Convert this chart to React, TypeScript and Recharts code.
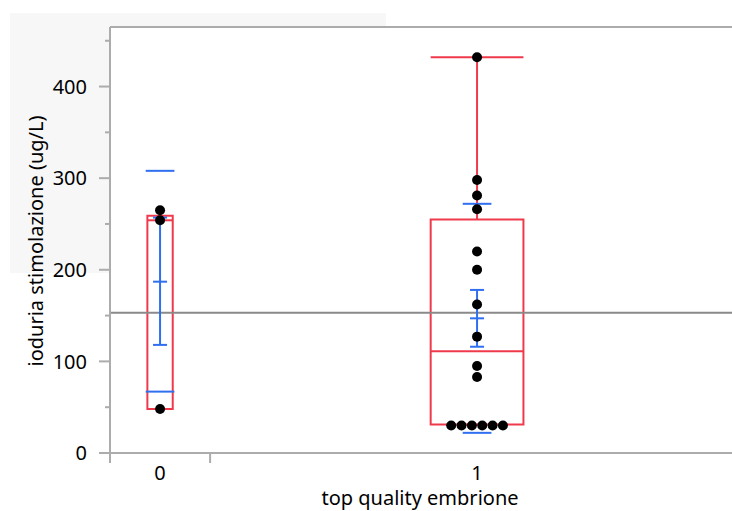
import React from 'react';
import {
  CartesianGrid,
  ComposedChart,
  Label,
  ReferenceArea,
  ReferenceLine,
  Scatter,
  XAxis,
  YAxis,
} from 'recharts';

// groups of "top quality embrione", width of each group follows its count
const groups = ['0', '1'];
const groupCounts = [3, 16];
const groupValues = [
  [265, 254, 48],
  [432, 298, 281, 266, 220, 200, 162, 127, 95, 83, 30, 30, 30, 30, 30, 30],
];

// box plot stats
const quartile1 = [48, 31];
const medians = [254, 111];
const quartile3 = [259, 255];
const whiskerTop = [259, 432];

// mean, std error, std dev
const means = [187, 147];
const stdErrLow = [118, 116];
const stdErrHigh = [257, 178];
const stdDevLow = [67, 22];
const stdDevHigh = [308, 272];
const grandMean = 153;

const yTicks = [0, 50, 100, 150, 200, 250, 300, 350, 400, 450];

const RED = '#ef3a4c';
const BLUE = '#2f6ff0';
const AXIS = '#acacac';
const FONT = '"Noto Sans", sans-serif';

const starts = groupCounts.map((_, i) => groupCounts.slice(0, i).reduce((a, b) => a + b, 0));
const total = groupCounts.reduce((a, b) => a + b, 0);
const centers = groupCounts.map((n, i) => starts[i] + n / 2);
const separators = [...starts, total];
const boxHalf = [0.38, 1.39];

// equal values sit side by side
const points = groupValues.flatMap((vals, g) => {
  const seen: Record<number, number> = {};
  return vals.map((v) => {
    const k = vals.filter((w) => w === v).length;
    const i = seen[v] ?? 0;
    seen[v] = i + 1;
    return { x: centers[g] + (i - (k - 1) / 2) * 0.31, y: v };
  });
});

const seg = (x1: number, y1: number, x2: number, y2: number, color: string, key: string) => (
  <ReferenceLine
    key={key}
    segment={[{ x: x1, y: y1 }, { x: x2, y: y2 }]}
    stroke={color}
    strokeWidth={2}
    ifOverflow="visible"
  />
);

const XTick = (props: any) => {
  const { x, y, payload } = props;
  const gi = centers.indexOf(payload.value);
  if (gi >= 0) {
    return (
      <text x={x} y={y + 27} textAnchor="middle" fontSize={20} fontFamily={FONT} fill="#000">
        {groups[gi]}
      </text>
    );
  }
  return <line x1={x} x2={x} y1={y} y2={y + 10} stroke={AXIS} strokeWidth={2} />;
};

const YTick = (props: any) => {
  const { x, y, payload } = props;
  const major = payload.value % 100 === 0;
  return (
    <g>
      <line x1={x - (major ? 11 : 5)} x2={x} y1={y} y2={y} stroke={AXIS} strokeWidth={2} />
      {major && (
        <text x={x - 23} y={y} dy="0.36em" textAnchor="end" fontSize={20} fontFamily={FONT} fill="#000">
          {payload.value}
        </text>
      )}
    </g>
  );
};

export default function App() {
  return (
    <div style={{ position: 'fixed', left: 0, top: 0, width: 732, height: 511, overflow: 'hidden', background: '#fff' }}>
      <div style={{ position: 'absolute', left: 10, top: 13, width: 376, height: 260, background: '#f7f7f7' }} />
      <div style={{ position: 'absolute', left: 0, top: 0 }}>
        <ComposedChart width={752} height={511} margin={{ top: 27, right: 8, bottom: 28, left: 0 }}>
          <CartesianGrid horizontal={false} vertical={false} fill="#fff" />
          <XAxis
            type="number"
            dataKey="x"
            domain={[0, total]}
            ticks={[...separators, ...centers].sort((a, b) => a - b)}
            tick={<XTick />}
            tickSize={0}
            tickMargin={0}
            height={30}
            axisLine={{ stroke: AXIS, strokeWidth: 2 }}
            interval={0}
            allowDataOverflow
          >
            <Label
              content={() => (
                <text x={420} y={505} textAnchor="middle" fontSize={20} fontFamily={FONT} fill="#000">
                  top quality embrione
                </text>
              )}
            />
          </XAxis>
          <YAxis
            type="number"
            dataKey="y"
            domain={[0, 465]}
            ticks={yTicks}
            tick={<YTick />}
            tickSize={0}
            tickMargin={0}
            width={110}
            axisLine={{ stroke: AXIS, strokeWidth: 2 }}
            interval={0}
            allowDataOverflow
          >
            <Label
              content={() => (
                <text
                  x={43}
                  y={241}
                  transform="rotate(-90, 43, 241)"
                  textAnchor="middle"
                  fontSize={20}
                  fontFamily={FONT}
                  fill="#000"
                >
                  ioduria stimolazione (ug/L)
                </text>
              )}
            />
          </YAxis>
          <ReferenceLine y={465} stroke={AXIS} strokeWidth={2} />
          <ReferenceLine y={grandMean} stroke="#8a8a8a" strokeWidth={2} />
          {groups.map((_, g) => (
            <ReferenceArea
              key={'box' + g}
              x1={centers[g] - boxHalf[g]}
              x2={centers[g] + boxHalf[g]}
              y1={quartile1[g]}
              y2={quartile3[g]}
              fill="none"
              fillOpacity={0}
              stroke={RED}
              strokeWidth={2}
              strokeOpacity={1}
              ifOverflow="visible"
            />
          ))}
          {groups.map((_, g) =>
            seg(centers[g] - boxHalf[g], medians[g], centers[g] + boxHalf[g], medians[g], RED, 'med' + g)
          )}
          <Scatter
            data={points}
            isAnimationActive={false}
            shape={(p: any) => <circle cx={p.cx} cy={p.cy} r={5} fill="#000" />}
          />
          {groups.flatMap((_, g) =>
            whiskerTop[g] > quartile3[g]
              ? [
                  seg(centers[g], quartile3[g], centers[g], whiskerTop[g], RED, 'wh' + g),
                  seg(centers[g] - boxHalf[g], whiskerTop[g], centers[g] + boxHalf[g], whiskerTop[g], RED, 'cap' + g),
                ]
              : []
          )}
          {groups.flatMap((_, g) => [
            seg(centers[g], stdErrLow[g], centers[g], stdErrHigh[g], BLUE, 'se' + g),
            seg(centers[g] - 0.21, stdErrLow[g], centers[g] + 0.21, stdErrLow[g], BLUE, 'sel' + g),
            seg(centers[g] - 0.21, stdErrHigh[g], centers[g] + 0.21, stdErrHigh[g], BLUE, 'seh' + g),
            seg(centers[g] - 0.21, means[g], centers[g] + 0.21, means[g], BLUE, 'mean' + g),
            seg(centers[g] - 0.43, stdDevLow[g], centers[g] + 0.43, stdDevLow[g], BLUE, 'sdl' + g),
            seg(centers[g] - 0.43, stdDevHigh[g], centers[g] + 0.43, stdDevHigh[g], BLUE, 'sdh' + g),
          ])}
        </ComposedChart>
      </div>
    </div>
  );
}
